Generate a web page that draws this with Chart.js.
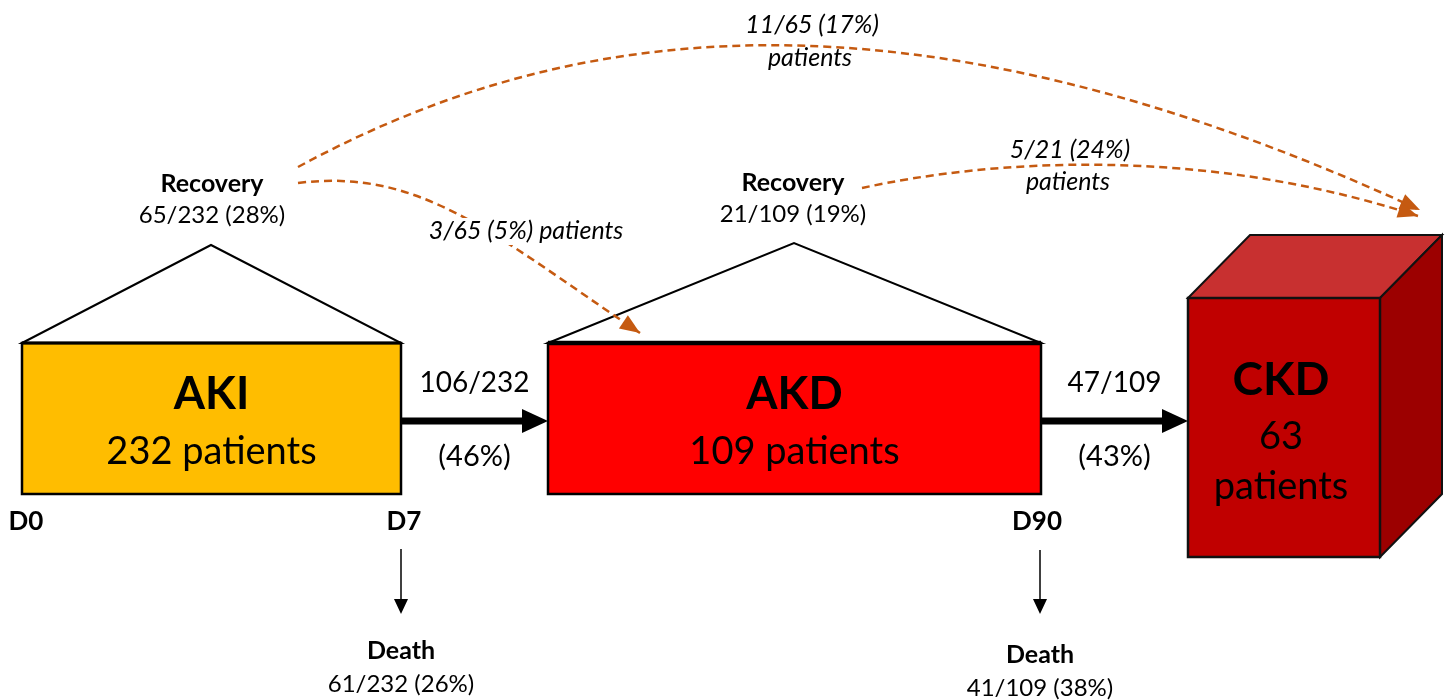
<!DOCTYPE html>
<html>
<head>
<meta charset="utf-8">
<script src="https://cdn.jsdelivr.net/npm/chart.js@4"></script>
<style>
  body { margin: 0; background: #fff; }
</style>
</head>
<body>
<canvas id="flow" width="1451" height="700"></canvas>
<script>
// data
var stages = ['AKI', 'AKD', 'CKD'];
var stagePatients = [232, 109, 63];
var dayLabels = ['D0', 'D7', 'D90'];
var progressed = [106, 47];      // AKI -> AKD, AKD -> CKD
var recovered = [65, 21];        // recovery at AKI / AKD stage
var deaths = [61, 41];           // death at D7 / D90
var laterCkd = [11, 5];          // recovered patients who still ended in CKD
var laterAkd = 3;                // recovered AKI patients who went on to AKD

function pct(a, b) { return Math.round(a / b * 100); }
function frac(a, b) { return a + '/' + b + ' (' + pct(a, b) + '%)'; }

// layout in scale units (the axes run 0..1451 and 0..700)
var layout = {
    boxes: [
        { x0: 22, x1: 401, y0: 343, y1: 494, fill: '#FFBD00', apex: [211, 245] },
        { x0: 548, x1: 1041, y0: 343, y1: 494, fill: '#FF0000', apex: [794, 243] }
    ],
    cube: { x0: 1188, x1: 1380, y0: 298, y1: 557, dx: 62, dy: 63 },
    arrowY: 421,
    days: [[26, 522], [404, 522], [1037, 522]],
    deathX: [401, 1040],
    deathY: [[549, 614, 651, 684], [550, 614, 655, 688]],
    recovery: [[212, 184, 215], [793, 183, 214]]
};

var orange = '#C55A11';
var FONT = 'Lato, "Liberation Sans", sans-serif';

var flowPlugin = {
    id: 'flow',
    afterDraw: function (chart) {
        var c = chart.ctx;
        var sx = chart.scales.x, sy = chart.scales.y;
        function X(v) { return sx.getPixelForValue(v); }
        function Y(v) { return sy.getPixelForValue(v); }

        function text(s, x, y, font, color) {
            c.save();
            c.font = font + ' ' + FONT;
            c.fillStyle = color || '#000';
            c.textAlign = 'center';
            c.textBaseline = 'middle';
            c.fillText(s, X(x), Y(y));
            c.restore();
        }
        function poly(pts, fill, stroke, lw) {
            c.beginPath();
            pts.forEach(function (p, i) {
                if (i === 0) c.moveTo(X(p[0]), Y(p[1])); else c.lineTo(X(p[0]), Y(p[1]));
            });
            c.closePath();
            if (fill) { c.fillStyle = fill; c.fill(); }
            if (stroke) { c.strokeStyle = stroke; c.lineWidth = lw; c.lineJoin = 'miter'; c.stroke(); }
        }
        function curve(p0, c1, c2, p3) {
            c.save();
            c.strokeStyle = orange;
            c.lineWidth = 2.5;
            c.setLineDash([8, 5]);
            c.beginPath();
            c.moveTo(X(p0[0]), Y(p0[1]));
            c.bezierCurveTo(X(c1[0]), Y(c1[1]), X(c2[0]), Y(c2[1]), X(p3[0]), Y(p3[1]));
            c.stroke();
            c.restore();
            var a = Math.atan2(Y(p3[1]) - Y(c2[1]), X(p3[0]) - X(c2[0]));
            var tx = X(p3[0]), ty = Y(p3[1]);
            c.save();
            c.fillStyle = orange;
            c.beginPath();
            c.moveTo(tx, ty);
            c.lineTo(tx - 20 * Math.cos(a) + 8 * Math.sin(a), ty - 20 * Math.sin(a) - 8 * Math.cos(a));
            c.lineTo(tx - 20 * Math.cos(a) - 8 * Math.sin(a), ty - 20 * Math.sin(a) + 8 * Math.cos(a));
            c.closePath();
            c.fill();
            c.restore();
        }

        // AKI and AKD boxes with their recovery roofs
        layout.boxes.forEach(function (b, i) {
            poly([[b.x0, b.y0], b.apex, [b.x1, b.y0]], '#fff', '#000', 2);
            poly([[b.x0, b.y0], [b.x1, b.y0], [b.x1, b.y1], [b.x0, b.y1]], b.fill, '#000', 2.5);
            c.beginPath();
            c.moveTo(X(b.x0), Y(b.y0)); c.lineTo(X(b.x1), Y(b.y0));
            c.lineWidth = i === 1 ? 4.5 : 3; c.strokeStyle = '#000'; c.stroke();
            var cx = (b.x0 + b.x1) / 2;
            text(stages[i], cx, 394, 'bold 45px');
            text(stagePatients[i] + ' patients', cx, 452, '38px');
        });

        // CKD cube
        var q = layout.cube;
        poly([[q.x0, q.y0], [q.x0 + q.dx, q.y0 - q.dy], [q.x1 + q.dx, q.y0 - q.dy], [q.x1, q.y0]], '#C83030', '#111', 2);
        poly([[q.x1, q.y0], [q.x1 + q.dx, q.y0 - q.dy], [q.x1 + q.dx, q.y1 - q.dy], [q.x1, q.y1]], '#9C0000', '#111', 2);
        poly([[q.x0, q.y0], [q.x1, q.y0], [q.x1, q.y1], [q.x0, q.y1]], '#C00000', '#111', 2.5);
        var ccx = (q.x0 + q.x1) / 2 - 3;
        text(stages[2], ccx, 380, 'bold 46px');
        text(String(stagePatients[2]), ccx, 437, '38px');
        text('patients', ccx, 487, '38px');

        // progression arrows
        [[401, 548], [1041, 1188]].forEach(function (seg, i) {
            var y = layout.arrowY;
            c.beginPath();
            c.moveTo(X(seg[0]), Y(y)); c.lineTo(X(seg[1] - 22), Y(y));
            c.lineWidth = 7; c.strokeStyle = '#000'; c.lineCap = 'butt'; c.stroke();
            poly([[seg[1] - 26, y - 12], [seg[1], y], [seg[1] - 26, y + 12]], '#000');
            var mx = (seg[0] + seg[1]) / 2;
            text(progressed[i] + '/' + stagePatients[i], mx, 383, '28px');
            text('(' + pct(progressed[i], stagePatients[i]) + '%)', mx, 457, '29px');
        });

        // day markers
        layout.days.forEach(function (d, i) { text(dayLabels[i], d[0], d[1], 'bold 26px'); });

        // deaths
        layout.deathX.forEach(function (x, i) {
            var d = layout.deathY[i];
            c.beginPath();
            c.moveTo(X(x), Y(d[0])); c.lineTo(X(x), Y(d[1] - 10));
            c.lineWidth = 1.5; c.strokeStyle = '#000'; c.stroke();
            poly([[x - 7, d[1] - 15], [x + 7, d[1] - 15], [x, d[1]]], '#000');
            text('Death', x, d[2], 'bold 25px');
            text(frac(deaths[i], stagePatients[i]), x, d[3], '24px');
        });

        // recovery labels
        layout.recovery.forEach(function (r, i) {
            text('Recovery', r[0], r[1], 'bold 25px');
            text(frac(recovered[i], stagePatients[i]), r[0], r[2], '24px');
        });

        // dashed follow-up curves
        curve([298, 167], [560, 25], [900, -30], [1420, 210]);
        curve([862, 188], [990, 160], [1200, 145], [1418, 216]);
        curve([298, 183], [420, 168], [490, 232], [640, 333]);

        // label that breaks the short curve
        c.save();
        c.font = 'italic 25px ' + FONT;
        var lab = frac(laterAkd, recovered[0]) + ' patients';
        var w = c.measureText(lab).width;
        c.fillStyle = '#fff';
        c.fillRect(X(526) - w / 2 - 3, Y(218), w + 6, Y(245) - Y(218));
        c.restore();
        text(lab, 526, 231, 'italic 25px');

        text(frac(laterCkd[0], recovered[0]), 812, 25, 'italic 25px');
        text('patients', 810, 58, 'italic 25px');
        text(frac(laterCkd[1], recovered[1]), 1070, 150, 'italic 25px');
        text('patients', 1068, 182, 'italic 25px');
    }
};

var ctx = document.getElementById('flow').getContext('2d');
var chart = new Chart(ctx, {
    type: 'scatter',
    data: {
        datasets: [{
            label: 'Patients',
            data: [],
            pointRadius: 0
        }]
    },
    options: {
        responsive: false,
        animation: false,
        layout: { padding: 0 },
        scales: {
            x: { type: 'linear', min: 0, max: 1451, display: false },
            y: { type: 'linear', min: 0, max: 700, reverse: true, display: false }
        },
        plugins: {
            legend: { display: false },
            tooltip: { enabled: false }
        }
    },
    plugins: [flowPlugin]
});
</script>
</body>
</html>
